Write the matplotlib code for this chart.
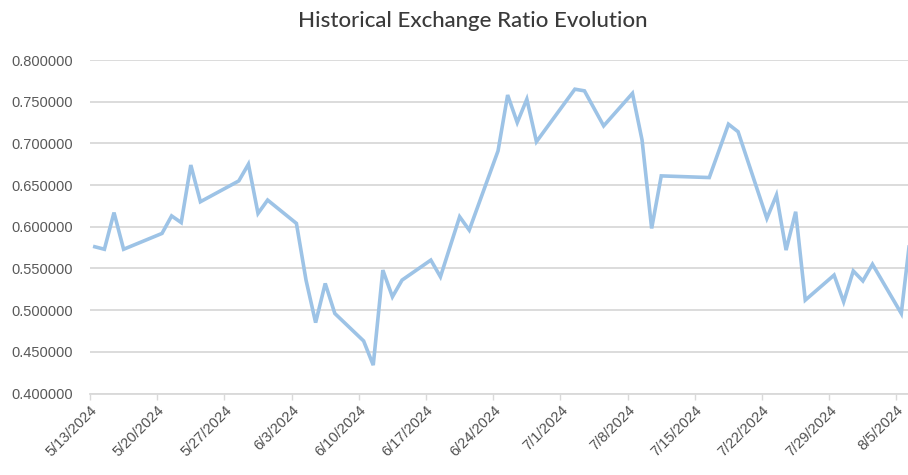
import matplotlib
matplotlib.use("Agg")
import matplotlib.pyplot as plt
import pandas as pd

# Daily exchange ratio (trading days)
dates = [
    "2024-05-13", "2024-05-14", "2024-05-15", "2024-05-16", "2024-05-20",
    "2024-05-21", "2024-05-22", "2024-05-23", "2024-05-24", "2024-05-28",
    "2024-05-29", "2024-05-30", "2024-05-31", "2024-06-03", "2024-06-04",
    "2024-06-05", "2024-06-06", "2024-06-07", "2024-06-10", "2024-06-11",
    "2024-06-12", "2024-06-13", "2024-06-14", "2024-06-17", "2024-06-18",
    "2024-06-20", "2024-06-21", "2024-06-24", "2024-06-25", "2024-06-26",
    "2024-06-27", "2024-06-28", "2024-07-02", "2024-07-03", "2024-07-05",
    "2024-07-08", "2024-07-09", "2024-07-10", "2024-07-11", "2024-07-16",
    "2024-07-18", "2024-07-19", "2024-07-22", "2024-07-23", "2024-07-24",
    "2024-07-25", "2024-07-26", "2024-07-29", "2024-07-30", "2024-07-31",
    "2024-08-01", "2024-08-02", "2024-08-05", "2024-08-06",
]
ratios = [
    0.576, 0.573, 0.617, 0.573, 0.592,
    0.613, 0.605, 0.674, 0.630, 0.655,
    0.675, 0.616, 0.632, 0.604, 0.536,
    0.485, 0.532, 0.496, 0.463, 0.434,
    0.548, 0.516, 0.536, 0.560, 0.540,
    0.612, 0.596, 0.691, 0.758, 0.725,
    0.753, 0.702, 0.765, 0.763, 0.721,
    0.760, 0.704, 0.598, 0.661, 0.659,
    0.723, 0.714, 0.610, 0.638, 0.572,
    0.618, 0.512, 0.542, 0.510, 0.547,
    0.535, 0.555, 0.496, 0.595,
]
tick_dates = [
    "2024-05-13", "2024-05-20", "2024-05-27", "2024-06-03", "2024-06-10",
    "2024-06-17", "2024-06-24", "2024-07-01", "2024-07-08", "2024-07-15",
    "2024-07-22", "2024-07-29", "2024-08-05",
]
tick_labels = [
    "5/13/2024", "5/20/2024", "5/27/2024", "6/3/2024", "6/10/2024",
    "6/17/2024", "6/24/2024", "7/1/2024", "7/8/2024", "7/15/2024",
    "7/22/2024", "7/29/2024", "8/5/2024",
]
y_ticks = [0.40, 0.45, 0.50, 0.55, 0.60, 0.65, 0.70, 0.75, 0.80]

# each day's value sits in the middle of its day slot, between tick marks
x = pd.to_datetime(dates) + pd.Timedelta(hours=12)
xt = pd.to_datetime(tick_dates)

fig = plt.figure(figsize=(9.08, 4.75), dpi=100)
ax = fig.add_axes([90 / 908, 81.5 / 475, 818 / 908, 333.5 / 475])

ax.plot(x, ratios, color="#9dc3e6", linewidth=2.6, solid_joinstyle="miter",
        zorder=3)

start = pd.Timestamp("2024-05-13")
ax.set_xlim(start, start + pd.Timedelta(days=85.2))
ax.set_ylim(0.40, 0.80)

ax.set_yticks(y_ticks)
ax.set_yticklabels([f"{v:.6f}" for v in y_ticks])
ax.set_xticks(xt)
ax.set_xticklabels(tick_labels, rotation=45, ha="right", rotation_mode="anchor")

for lab in ax.get_yticklabels():
    lab.set_fontfamily("Liberation Sans")
    lab.set_fontsize(10.5)
    lab.set_color("#595959")
for lab in ax.get_xticklabels():
    lab.set_fontfamily("Liberation Sans")
    lab.set_fontsize(10.5)
    lab.set_color("#505050")

ax.grid(axis="y", color="#d9d9d9", linewidth=1.3)
ax.set_axisbelow(True)
for side in ["left", "right", "top"]:
    ax.spines[side].set_visible(False)
ax.spines["bottom"].set_color("#d9d9d9")
ax.spines["bottom"].set_linewidth(1.3)
ax.tick_params(axis="y", length=0, pad=12.5)
ax.tick_params(axis="x", length=4, color="#d9d9d9", width=1.0, pad=3)

fig.text(473 / 908, 1 - 21 / 475, "Historical Exchange Ratio Evolution",
         ha="center", va="center", fontsize=16, color="#3a3a3a",
         fontfamily="Lato", fontweight="medium")

fig.savefig("out.png", dpi=100, facecolor="white")
